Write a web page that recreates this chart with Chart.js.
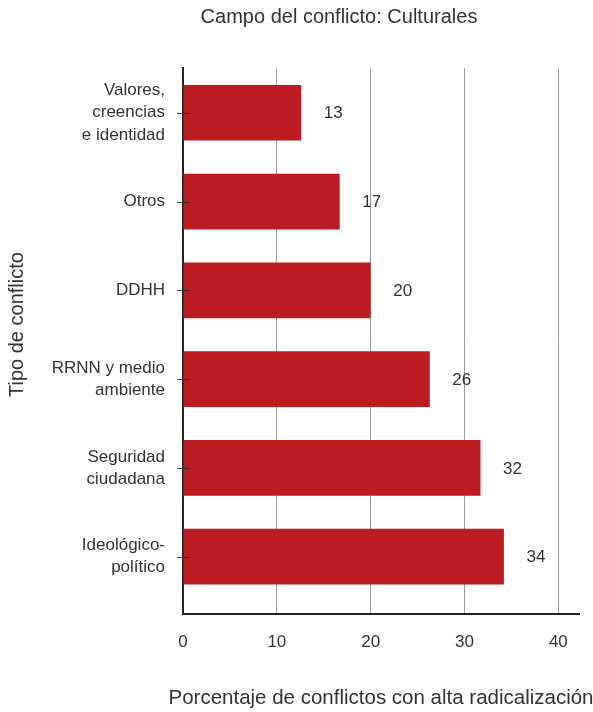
<!DOCTYPE html>
<html>
<head>
<meta charset="utf-8">
<script src="https://cdn.jsdelivr.net/npm/chart.js@4/dist/chart.umd.min.js"></script>
<style>
  html, body { margin: 0; padding: 0; background: #fff; }
  canvas { display: block; }
</style>
</head>
<body>
<canvas id="graficoCultural" width="593" height="712"></canvas>
<script>
const titulo = 'Campo del conflicto: Culturales';
const tituloX = 'Porcentaje de conflictos con alta radicalización';
const tipos = [
    ['Valores,', 'creencias', 'e identidad'],
    'Otros',
    'DDHH',
    ['RRNN y medio', 'ambiente'],
    ['Seguridad', 'ciudadana'],
    ['Ideológico-', 'político']
];
const porcentajes = [12.6, 16.7, 20.0, 26.3, 31.7, 34.2];
const ticksX = [0, 10, 20, 30, 40];

const COLOR_TEXTO = '#333';
const FAMILIA = "'Liberation Sans', Arial, sans-serif";
const fuente = { family: FAMILIA, size: 17 };

// títulos, etiquetas de valor a la derecha de cada barra y marcas del eje y
const etiquetasPlugin = {
    id: 'etiquetas',
    afterDatasetsDraw(chart) {
        const ctx = chart.ctx;
        const meta = chart.getDatasetMeta(0);
        const yScale = chart.scales.y;
        const area = chart.chartArea;
        ctx.save();
        ctx.strokeStyle = '#333';
        ctx.lineWidth = 1;
        tipos.forEach((t, i) => {
            const y = Math.round(yScale.getPixelForValue(i)) + 0.5;
            ctx.beginPath();
            ctx.moveTo(area.left - 6, y);
            ctx.lineTo(area.left + 7, y);
            ctx.stroke();
        });
        ctx.fillStyle = COLOR_TEXTO;
        ctx.textAlign = 'center';
        ctx.textBaseline = 'middle';
        ctx.font = fuente.size + 'px ' + fuente.family;
        meta.data.forEach((bar, i) => {
            ctx.fillText(String(Math.round(porcentajes[i])), bar.x + 32, bar.y + 1);
        });
        ctx.font = '20px ' + FAMILIA;
        ctx.fillText(titulo, 339, 17);
        ctx.font = '20.5px ' + FAMILIA;
        ctx.fillText(tituloX, (area.left + area.right) / 2, 698);
        ctx.restore();
    }
};

new Chart(document.getElementById('graficoCultural'), {
    type: 'bar',
    data: {
        labels: tipos,
        datasets: [{
            data: porcentajes,
            backgroundColor: '#bc1b22',
            borderWidth: 0,
            categoryPercentage: 0.627,
            barPercentage: 1
        }]
    },
    options: {
        indexAxis: 'y',
        responsive: false,
        animation: false,
        devicePixelRatio: 1,
        layout: { padding: { left: 0, right: 14, top: 68.4, bottom: 0 } },
        plugins: {
            legend: { display: false },
            tooltip: { enabled: false },
            title: { display: false }
        },
        scales: {
            x: {
                min: 0,
                max: 42.2,
                afterBuildTicks: s => { s.ticks = ticksX.map(v => ({ value: v })); },
                afterFit: s => { s.height = 98; },
                ticks: { color: COLOR_TEXTO, font: fuente, padding: 18 },
                grid: { color: '#999', lineWidth: 1, drawTicks: false },
                border: { color: '#222', width: 2 },
                title: { display: false }
            },
            y: {
                // deja algo de espacio bajo la última barra, como en el original
                afterBuildTicks: s => { s._valueRange += 0.146; },
                afterFit: s => { s.width = 183; },
                ticks: {
                    color: COLOR_TEXTO,
                    font: { ...fuente, lineHeight: 1.3 },
                    padding: 18
                },
                grid: { display: false, drawTicks: false },
                border: { color: '#222', width: 2 },
                title: {
                    display: true,
                    text: '      Tipo de conflicto',
                    color: COLOR_TEXTO,
                    font: { family: FAMILIA, size: 20 },
                    padding: { top: 5, bottom: 0 }
                }
            }
        }
    },
    plugins: [etiquetasPlugin]
});
</script>
</body>
</html>
